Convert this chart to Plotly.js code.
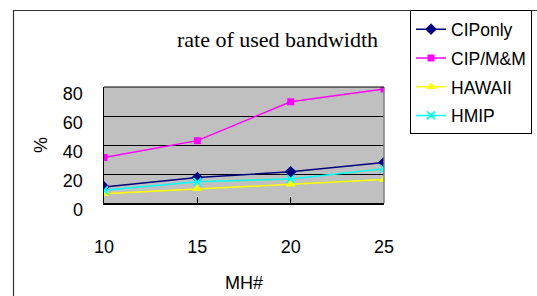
<!DOCTYPE html>
<html>
<head>
<meta charset="utf-8">
<script src="https://cdn.plot.ly/plotly-3.0.1.min.js"></script>
<style>
html,body{margin:0;padding:0;background:#fff;}
#chart{width:537px;height:296px;}
</style>
</head>
<body>
<div id="chart"></div>
<script>
const mh = [10, 15, 20, 25];
const cipOnly = [11.1, 17.6, 21.5, 28.0];
const cipMM = [31.4, 43.0, 69.8, 78.6];
const hawaii = [6.4, 9.9, 12.9, 16.2];
const hmip = [8.8, 14.6, 16.6, 23.6];
const yTicks = [0, 20, 40, 60, 80];
const xTicks = [10, 15, 20, 25];

const L = 104, T = 87, W = 280, H = 116;
function px(x){ return (x - L) / W; }
function py(y){ return (T + H - y) / H; }

const traces = [
  {name:'CIPonly', y:cipOnly, color:'#000080', symbol:'diamond', size:9},
  {name:'CIP/M&M', y:cipMM, color:'#FF00FF', symbol:'square', size:7},
  {name:'HAWAII', y:hawaii, color:'#FFFF00', symbol:'triangle-up', size:9},
  {name:'HMIP', y:hmip, color:'#00FFFF', symbol:'x-thin', size:8}
].map((s, i) => ({
  type:'scatter', mode:'lines+markers', x:mh, y:s.y, name:s.name,
  legendgroup:'g'+i,
  line:{color:s.color, width:1.5},
  marker:{color:s.color, symbol:s.symbol, size:s.size,
          line:{color:s.color, width: s.symbol === 'x-thin' ? 1.8 : 0}}
}));

const layout = {
  width:537, height:296,
  margin:{l:L, r:537-L-W, t:T, b:296-T-H, autoexpand:false},
  paper_bgcolor:'#ffffff',
  plot_bgcolor:'#C0C0C0',
  font:{family:'Liberation Sans, Arial, sans-serif', size:18, color:'#000'},
  title:{text:'rate of used bandwidth', font:{family:'Liberation Serif, Times New Roman, serif', size:22, color:'#000'},
         xref:'paper', x:px(277.5), xanchor:'center', yref:'container', y:1-39/296, yanchor:'middle'},
  xaxis:{range:[10,25], tickvals:xTicks, ticktext:xTicks.map(String),
         showgrid:false, zeroline:false, showline:true, linecolor:'#000', linewidth:1.5,
         ticks:'inside', ticklen:6, tickcolor:'#000', tickwidth:1.5,
         ticklabelstandoff:27,
         title:{text:'MH#', font:{size:18}, standoff:20}},
  yaxis:{range:[0,80], tickvals:yTicks, showgrid:true, gridcolor:'#000', gridwidth:1,
         zeroline:false, showline:true, linecolor:'#000', linewidth:1.5,
         ticks:'', ticklabelshift:7, ticklabelstandoff:16,
         title:{text:'%', font:{size:18}, standoff:10}},
  legend:{x:px(410), y:py(10.3), xanchor:'left', yanchor:'top', xref:'paper', yref:'paper',
          bgcolor:'#fff', bordercolor:'#000', borderwidth:1,
          font:{size:17.5, color:'#000'}, tracegroupgap:3, itemwidth:30},
  shapes:[
    {type:'rect', xref:'paper', yref:'paper', x0:px(13.5), x1:px(545), y0:py(10.5), y1:py(310),
     line:{color:'#333', width:1.2}, fillcolor:'rgba(0,0,0,0)', layer:'below'},
    {type:'line', xref:'paper', yref:'paper', x0:1, x1:1, y0:0, y1:1,
     line:{color:'#808080', width:1.5}},
    {type:'line', xref:'paper', yref:'paper', x0:0, x1:1, y0:1, y1:1,
     line:{color:'#000', width:1}}
  ],
  showlegend:true
};

Plotly.newPlot('chart', traces, layout, {displayModeBar:false, staticPlot:true});
</script>
</body>
</html>
